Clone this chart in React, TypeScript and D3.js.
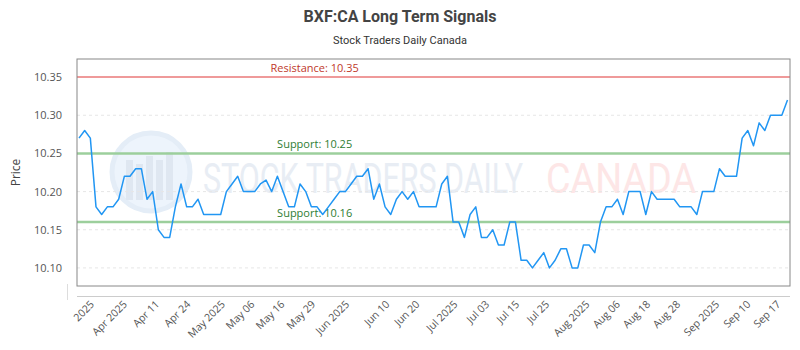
import React from 'react';
import * as d3 from 'd3';

// closing prices, one per trading day
const prices = [
  10.27, 10.28, 10.27, 10.18, 10.17, 10.18, 10.18, 10.19, 10.22, 10.22,
  10.23, 10.23, 10.19, 10.2, 10.15, 10.14, 10.14, 10.18, 10.21, 10.18,
  10.18, 10.19, 10.17, 10.17, 10.17, 10.17, 10.2, 10.21, 10.22, 10.2,
  10.2, 10.2, 10.21, 10.215, 10.2, 10.22, 10.2, 10.18, 10.18, 10.21,
  10.2, 10.18, 10.18, 10.17, 10.18, 10.19, 10.2, 10.2, 10.21, 10.22,
  10.22, 10.23, 10.19, 10.21, 10.18, 10.17, 10.19, 10.2, 10.19, 10.2,
  10.18, 10.18, 10.18, 10.18, 10.21, 10.22, 10.16, 10.16, 10.14, 10.17,
  10.18, 10.14, 10.14, 10.15, 10.13, 10.13, 10.16, 10.16, 10.11, 10.11,
  10.1, 10.11, 10.12, 10.1, 10.11, 10.125, 10.125, 10.1, 10.1, 10.13,
  10.13, 10.12, 10.16, 10.18, 10.18, 10.19, 10.17, 10.2, 10.2, 10.2,
  10.17, 10.2, 10.19, 10.19, 10.19, 10.19, 10.18, 10.18, 10.18, 10.17,
  10.2, 10.2, 10.2, 10.23, 10.22, 10.22, 10.22, 10.27, 10.28, 10.26,
  10.29, 10.28, 10.3, 10.3, 10.3, 10.32,
];

// x-axis labels and the (fractional) day index they sit at
const tickLabels = [
  '2025', 'Apr 2025', 'Apr 11', 'Apr 24', 'May 2025', 'May 06', 'May 16', 'May 29',
  'Jun 2025', 'Jun 10', 'Jun 20', 'Jul 2025', 'Jul 03', 'Jul 15', 'Jul 25',
  'Aug 2025', 'Aug 06', 'Aug 18', 'Aug 28', 'Sep 2025', 'Sep 10', 'Sep 17',
];
const tickIndex = [
  2.8, 8.6, 14.3, 19.8, 25.9, 31.1, 36.4, 41.8, 47.8, 54.9, 60.2, 66.9,
  72.5, 77.8, 83.1, 90.2, 95.6, 100.9, 106.2, 113.1, 118.6, 123.9,
];

const yTicks = [10.1, 10.15, 10.2, 10.25, 10.3, 10.35];

const resistance = [10.35];
const support = [10.25, 10.16];

const W = 800;
const H = 350;
const plot = { left: 77, right: 790, top: 59, bottom: 286 };

const font = '"Open Sans", "DejaVu Sans", sans-serif';

const App = () => {
  const x = d3.scaleLinear()
    .domain([0, prices.length - 1])
    .range([plot.left + 2, plot.right - 2.5]);

  const y = d3.scaleLinear()
    .domain([10.0763, 10.3737])
    .range([plot.bottom, plot.top]);

  const line = d3.line<number>()
    .x((d, i) => x(i))
    .y(d => y(d));

  const labelX = plot.left + (plot.right - plot.left) / 3;

  return (
    <svg width={W} height={H} style={{ display: 'block', position: 'absolute', left: 0, top: 0 }}>
      <rect width={W} height={H} fill="#fff" />

      {/* title */}
      <text x={400} y={22} textAnchor="middle" fontFamily="Roboto, sans-serif" fontWeight="bold"
        fontSize={16} fill="#444">BXF:CA Long Term Signals</text>
      <text x={400} y={44} textAnchor="middle" fontFamily="Roboto, sans-serif"
        fontSize={11} fill="#333">Stock Traders Daily Canada</text>

      {/* watermark */}
      <g>
        <circle cx={151} cy={172} r={39} fill="#edf4fc" stroke="#e4edf7" strokeWidth={5} />
        {[0, 1, 2, 3, 4].map(i => (
          <rect key={i} x={126 + i * 10} y={160 + (i % 2) * 6 - i * 2} width={7}
            height={40 - (i % 2) * 6 + i * 2} fill="#dfe7f1" />
        ))}
        <g transform="translate(203,193) scale(1,1.6)">
          <text x={0} y={0} fontFamily="Roboto, sans-serif" fontSize={26}
            textLength={320} lengthAdjust="spacingAndGlyphs" fill="#e8edf4">STOCK TRADERS DAILY</text>
        </g>
        <g transform="translate(546,193) scale(1,1.6)">
          <text x={0} y={0} fontFamily="Roboto, sans-serif" fontSize={26}
            textLength={150} lengthAdjust="spacingAndGlyphs" fill="#fde6e6">CANADA</text>
        </g>
      </g>

      {/* grid */}
      {yTicks.map(t => (
        <line key={t} x1={plot.left} x2={plot.right} y1={y(t)} y2={y(t)}
          stroke="#e6e6e6" strokeDasharray="3,3" />
      ))}

      {/* y axis labels */}
      {yTicks.map(t => (
        <text key={t} x={62} y={y(t) + 4} textAnchor="end" fontFamily={font}
          fontSize={11} fill="#555">{t.toFixed(2)}</text>
      ))}
      <text transform={`translate(20,${(plot.top + plot.bottom) / 2}) rotate(-90)`}
        textAnchor="middle" fontFamily={font} fontSize={12} fill="#444">Price</text>

      {/* resistance / support */}
      {resistance.map(v => (
        <g key={v}>
          <line x1={plot.left} x2={plot.right} y1={y(v)} y2={y(v)} stroke="#ef9a9a" strokeWidth={2} />
          <text x={labelX} y={y(v) - 5} textAnchor="middle" fontFamily={font} fontSize={11}
            fill="#c0392b">Resistance: {v.toFixed(2)}</text>
        </g>
      ))}
      {support.map(v => (
        <g key={v}>
          <line x1={plot.left} x2={plot.right} y1={y(v)} y2={y(v)} stroke="#9ccf9c" strokeWidth={2.5} />
          <text x={labelX} y={y(v) - 5} textAnchor="middle" fontFamily={font} fontSize={11}
            fill="#2e7d32">Support: {v.toFixed(2)}</text>
        </g>
      ))}

      {/* price line */}
      <path d={line(prices) || ''} fill="none" stroke="#2196f3" strokeWidth={1.5}
        strokeLinejoin="round" />

      {/* frame */}
      <rect x={plot.left} y={plot.top} width={plot.right - plot.left} height={plot.bottom - plot.top}
        fill="none" stroke="#888" strokeWidth={1} />
      <line x1={plot.left} x2={plot.right} y1={296.5} y2={296.5} stroke="#ccc" />
      <line x1={67.5} x2={67.5} y1={284} y2={300} stroke="#ddd" />

      {/* x axis labels */}
      {tickLabels.map((l, i) => {
        const tx = x(tickIndex[i]);
        return (
          <text key={l} transform={`translate(${tx},${305}) rotate(-45)`} textAnchor="end"
            fontFamily={font} fontSize={10.5} fill="#555">{l}</text>
        );
      })}
    </svg>
  );
};

export default App;
